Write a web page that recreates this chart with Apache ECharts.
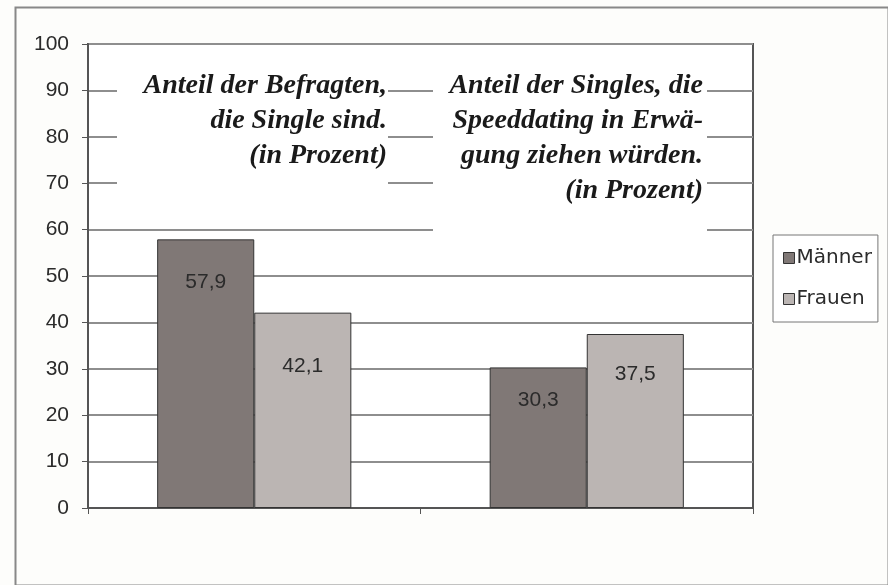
<!DOCTYPE html>
<html>
<head>
<meta charset="utf-8">
<script src="https://cdn.jsdelivr.net/npm/echarts@6/dist/echarts.min.js"></script>
<style>
  html, body { margin: 0; padding: 0; background: #fdfdfb; }
  #main { width: 888px; height: 585px; }
</style>
</head>
<body>
<div id="main"></div>
<script>
// Kategorien (Beschriftungen sind im Original verdeckt)
var categories = ['Single', 'Speeddating'];
var seriesNames = ['Männer', 'Frauen'];
var maenner = [57.9, 30.3];
var frauen = [42.1, 37.5];
var yTicks = [0, 10, 20, 30, 40, 50, 60, 70, 80, 90, 100];

// Abstand der Wertbeschriftung von der Balkenoberkante (px), nur Optik
var maennerLabelGap = [32, 22];
var frauenLabelGap = [43, 30];

var note1 = ['Anteil der Befragten,', 'die Single sind.', '(in Prozent)'];
var note2 = ['Anteil der Singles, die', 'Speeddating in Erwä-', 'gung ziehen würden.', '(in Prozent)'];

var chart = echarts.init(document.getElementById('main'), null, { renderer: 'canvas' });

var SANS = "'Liberation Sans', Arial, sans-serif";

function fmt(v) {
  return String(v).replace('.', ',');
}

// Datenpunkte mit eigener Labelposition
function items(values, gaps) {
  return values.map(function (v, i) {
    return { value: v, label: { distance: gaps[i] } };
  });
}

var labelStyle = {
  show: true,
  position: 'insideTop',
  fontFamily: SANS,
  fontSize: 21,
  color: '#2b2b2b',
  formatter: function (p) { return fmt(p.value); }
};

var serifText = {
  fontFamily: "'Liberation Serif', 'Times New Roman', serif",
  fontStyle: 'italic',
  fontWeight: 'bold',
  fontSize: 28,
  lineHeight: 35,
  fill: '#1a1a1a',
  align: 'right',
  verticalAlign: 'top'
};

chart.setOption({
  backgroundColor: '#fdfdfb',
  animation: false,
  grid: {
    left: 88,
    right: 135,
    top: 44,
    bottom: 77,
    show: true,
    backgroundColor: '#fff',
    borderColor: '#555',
    borderWidth: 2
  },
  legend: {
    orient: 'vertical',
    left: 773,
    top: 235,
    padding: [13, 6, 13, 10],
    itemWidth: 11,
    itemHeight: 11,
    itemGap: 21,
    itemStyle: { borderColor: '#333', borderWidth: 1 },
    borderColor: '#777',
    borderWidth: 1,
    backgroundColor: '#fff',
    icon: 'rect',
    textStyle: {
      fontFamily: "'DejaVu Sans', sans-serif",
      fontSize: 20,
      color: '#2b2b2b',
      padding: [0, 0, 0, -3]
    },
    data: seriesNames
  },
  xAxis: {
    type: 'category',
    data: categories,
    axisLine: { lineStyle: { color: '#555', width: 2 } },
    axisTick: { show: true, length: 6, lineStyle: { color: '#555', width: 1 } },
    axisLabel: { show: false }
  },
  yAxis: {
    type: 'value',
    min: yTicks[0],
    max: yTicks[yTicks.length - 1],
    interval: 10,
    axisLine: { show: true, lineStyle: { color: '#555', width: 2 } },
    axisTick: { show: true, length: 6, lineStyle: { color: '#555', width: 1 } },
    axisLabel: {
      fontFamily: SANS,
      fontSize: 21,
      color: '#2b2b2b',
      margin: 19
    },
    splitLine: { lineStyle: { color: '#8e8e8e', width: 2 } }
  },
  series: [
    {
      name: seriesNames[0],
      type: 'bar',
      barGap: '0%',
      barCategoryGap: '41.6%',
      itemStyle: { color: '#807876', borderColor: '#333', borderWidth: 1 },
      label: labelStyle,
      data: items(maenner, maennerLabelGap)
    },
    {
      name: seriesNames[1],
      type: 'bar',
      itemStyle: { color: '#bbb5b3', borderColor: '#333', borderWidth: 1 },
      label: labelStyle,
      data: items(frauen, frauenLabelGap)
    }
  ],
  graphic: [
    // weiße Kästen hinter den Notizen
    { type: 'rect', left: 117, top: 54, shape: { width: 271, height: 134 }, style: { fill: '#fff' }, z: 100 },
    { type: 'rect', left: 433, top: 54, shape: { width: 274, height: 186 }, style: { fill: '#fff' }, z: 100 },
    { type: 'text', x: 387, y: 68, style: Object.assign({ text: note1.join('\n') }, serifText), z: 101 },
    { type: 'text', x: 703, y: 68, style: Object.assign({ text: note2.join('\n') }, serifText), z: 101 },
    // äußerer Rahmen
    { type: 'rect', left: 13, top: 5, shape: { width: 873, height: 578 }, style: { fill: 'none', stroke: '#888', lineWidth: 2 }, z: 102 }
  ]
});
</script>
</body>
</html>
